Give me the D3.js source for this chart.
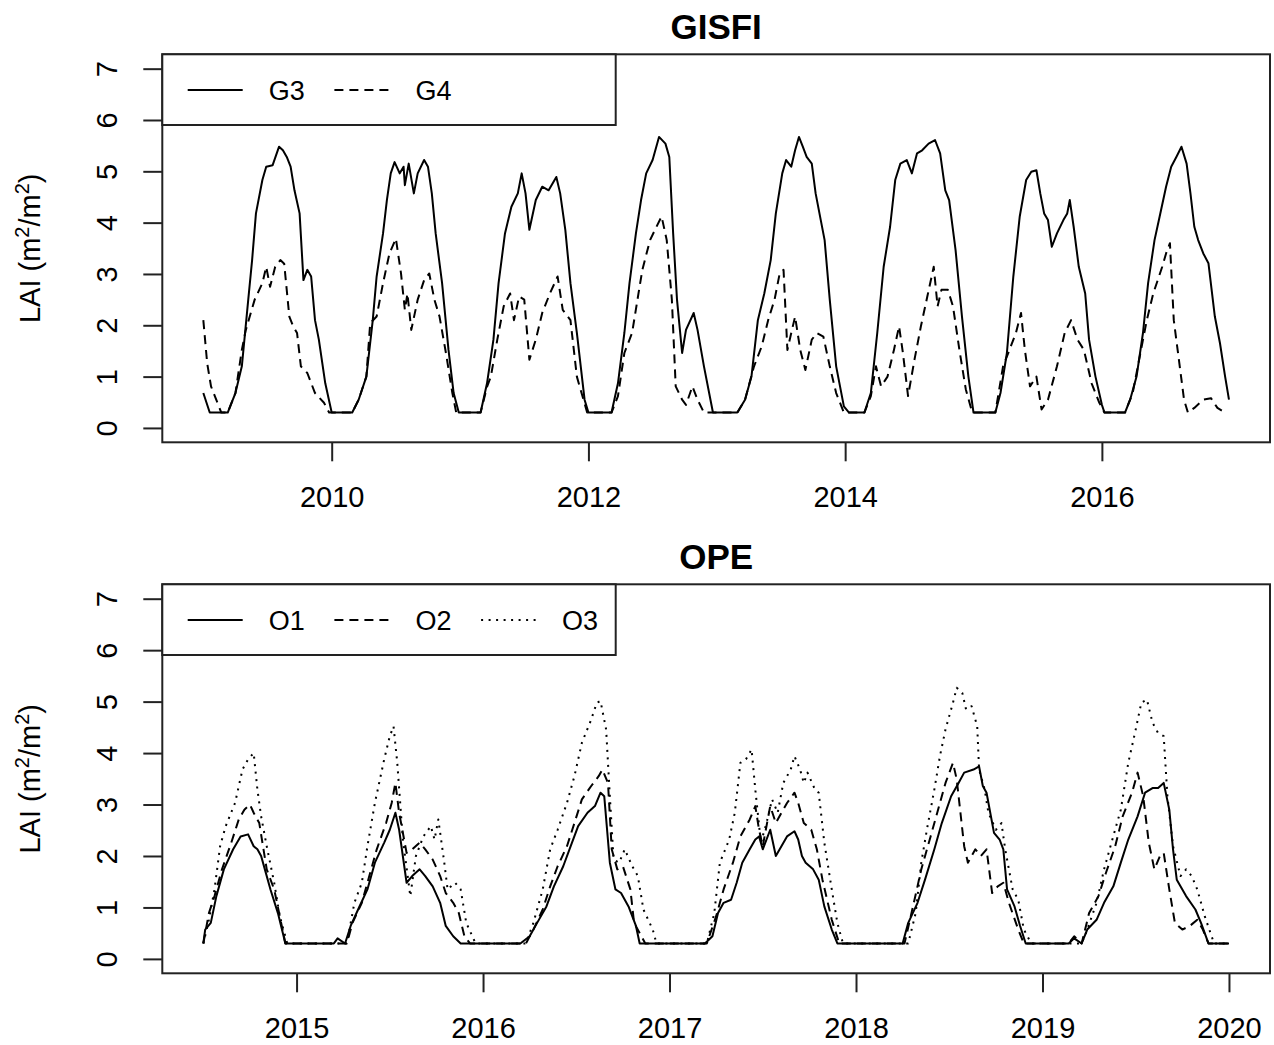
<!DOCTYPE html>
<html>
<head>
<meta charset="utf-8">
<script src="https://cdn.jsdelivr.net/npm/d3@7"></script>
<style>
  body { margin: 0; background: #fff; }
  text { font-family: "Liberation Sans", Arial, Helvetica, sans-serif; fill: #000; }
</style>
</head>
<body>
<div id="chart"></div>
<script>
// LAI series, [decimal year, value]
const g3 = [[2009.00,0.68],[2009.05,0.30],[2009.19,0.30],[2009.25,0.68],[2009.30,1.20],[2009.35,2.50],[2009.38,3.27],[2009.41,4.18],[2009.46,4.83],[2009.49,5.09],[2009.54,5.12],[2009.59,5.48],[2009.62,5.41],[2009.65,5.28],[2009.68,5.09],[2009.71,4.63],[2009.75,4.18],[2009.78,2.88],[2009.81,3.08],[2009.84,2.95],[2009.87,2.10],[2009.90,1.72],[2009.95,0.87],[2010.00,0.30],
  [2010.16,0.30],[2010.21,0.55],[2010.27,1.00],[2010.32,2.10],[2010.35,2.95],[2010.40,3.79],[2010.43,4.44],[2010.46,4.96],[2010.49,5.18],[2010.53,4.96],[2010.56,5.09],[2010.57,4.73],[2010.60,5.15],[2010.64,4.57],[2010.67,4.96],[2010.72,5.22],[2010.75,5.09],[2010.78,4.57],[2010.81,3.79],[2010.86,2.82],[2010.91,1.52],[2010.95,0.68],[2010.99,0.30],
  [2011.16,0.30],[2011.21,0.87],[2011.26,1.72],[2011.30,2.82],[2011.35,3.79],[2011.40,4.31],[2011.45,4.57],[2011.48,4.96],[2011.51,4.57],[2011.54,3.86],[2011.59,4.44],[2011.64,4.70],[2011.69,4.63],[2011.75,4.89],[2011.78,4.57],[2011.82,3.86],[2011.86,2.82],[2011.91,1.85],[2011.97,0.55],[2012.00,0.30],
  [2012.18,0.30],[2012.23,0.87],[2012.28,1.85],[2012.32,2.82],[2012.37,3.79],[2012.41,4.44],[2012.45,4.96],[2012.50,5.22],[2012.55,5.67],[2012.60,5.54],[2012.63,5.28],[2012.66,3.79],[2012.69,2.50],[2012.73,1.46],[2012.76,1.91],[2012.82,2.24],[2012.85,1.91],[2012.90,1.20],[2012.97,0.30],
  [2013.16,0.30],[2013.22,0.55],[2013.27,1.00],[2013.32,2.10],[2013.37,2.62],[2013.42,3.27],[2013.46,4.18],[2013.51,4.96],[2013.54,5.22],[2013.58,5.09],[2013.61,5.41],[2013.64,5.67],[2013.67,5.48],[2013.70,5.28],[2013.74,5.15],[2013.77,4.57],[2013.81,4.05],[2013.84,3.66],[2013.88,2.50],[2013.93,1.20],[2013.99,0.42],[2014.03,0.30],
  [2014.15,0.30],[2014.20,0.68],[2014.25,1.85],[2014.30,3.14],[2014.35,3.92],[2014.39,4.83],[2014.43,5.15],[2014.48,5.22],[2014.52,4.96],[2014.56,5.35],[2014.60,5.41],[2014.65,5.54],[2014.70,5.61],[2014.74,5.35],[2014.78,4.63],[2014.81,4.44],[2014.86,3.47],[2014.91,2.17],[2014.96,1.00],[2015.00,0.30],
  [2015.17,0.30],[2015.21,0.68],[2015.26,1.46],[2015.31,2.95],[2015.36,4.12],[2015.41,4.83],[2015.45,4.99],[2015.49,5.02],[2015.52,4.57],[2015.55,4.18],[2015.58,4.05],[2015.61,3.53],[2015.65,3.79],[2015.70,4.05],[2015.73,4.18],[2015.75,4.44],[2015.78,3.92],[2015.82,3.14],[2015.87,2.62],[2015.90,1.72],[2015.95,1.00],[2016.00,0.45],[2016.02,0.30],
  [2016.18,0.30],[2016.22,0.55],[2016.27,1.00],[2016.32,1.85],[2016.36,2.82],[2016.41,3.66],[2016.45,4.12],[2016.50,4.70],[2016.54,5.09],[2016.58,5.28],[2016.62,5.48],[2016.66,5.15],[2016.69,4.57],[2016.72,3.92],[2016.75,3.66],[2016.79,3.40],[2016.83,3.21],[2016.88,2.17],[2016.92,1.65],[2016.96,1.00],[2016.99,0.55]];

const g4 = [[2009.00,2.10],[2009.03,1.26],[2009.06,0.81],[2009.11,0.49],[2009.14,0.30],[2009.19,0.30],[2009.25,0.68],[2009.30,1.52],[2009.33,1.90],[2009.40,2.50],[2009.46,2.82],[2009.49,3.14],[2009.52,2.75],[2009.56,3.14],[2009.60,3.27],[2009.63,3.20],[2009.67,2.17],[2009.70,1.98],[2009.73,1.85],[2009.76,1.20],[2009.81,1.07],[2009.87,0.68],[2009.94,0.49],[2009.98,0.30],
  [2010.16,0.30],[2010.21,0.55],[2010.27,1.00],[2010.30,2.04],[2010.35,2.17],[2010.40,2.82],[2010.45,3.40],[2010.50,3.69],[2010.54,3.01],[2010.57,2.30],[2010.59,2.62],[2010.62,1.91],[2010.67,2.50],[2010.72,2.88],[2010.76,3.01],[2010.80,2.50],[2010.84,2.17],[2010.89,1.46],[2010.94,0.68],[2010.97,0.30],
  [2011.16,0.30],[2011.21,0.80],[2011.24,1.00],[2011.29,1.72],[2011.34,2.37],[2011.39,2.62],[2011.42,2.10],[2011.46,2.56],[2011.50,2.50],[2011.54,1.33],[2011.59,1.72],[2011.64,2.24],[2011.70,2.62],[2011.76,2.95],[2011.80,2.30],[2011.86,2.10],[2011.91,1.00],[2011.99,0.30],
  [2012.18,0.30],[2012.23,0.62],[2012.28,1.46],[2012.34,1.85],[2012.39,2.62],[2012.42,3.08],[2012.48,3.66],[2012.53,3.92],[2012.57,4.12],[2012.61,3.66],[2012.65,2.50],[2012.68,0.81],[2012.73,0.55],[2012.76,0.45],[2012.81,0.81],[2012.85,0.55],[2012.90,0.30],
  [2013.16,0.30],[2013.22,0.55],[2013.29,1.20],[2013.35,1.59],[2013.40,2.10],[2013.45,2.50],[2013.49,3.01],[2013.52,3.08],[2013.55,1.52],[2013.58,1.85],[2013.61,2.17],[2013.65,1.52],[2013.69,1.13],[2013.74,1.72],[2013.78,1.85],[2013.83,1.78],[2013.88,1.20],[2013.93,0.68],[2013.99,0.30],
  [2014.15,0.30],[2014.20,0.62],[2014.24,1.20],[2014.28,0.81],[2014.33,1.00],[2014.38,1.52],[2014.42,1.98],[2014.45,1.46],[2014.49,0.62],[2014.54,1.33],[2014.59,1.98],[2014.64,2.56],[2014.69,3.14],[2014.72,2.37],[2014.75,2.69],[2014.80,2.69],[2014.84,2.37],[2014.89,1.52],[2014.94,0.75],[2014.99,0.30],
  [2015.17,0.30],[2015.23,1.20],[2015.28,1.52],[2015.33,1.85],[2015.37,2.24],[2015.40,1.52],[2015.44,0.81],[2015.49,1.00],[2015.53,0.36],[2015.58,0.55],[2015.65,1.20],[2015.71,1.85],[2015.76,2.10],[2015.81,1.72],[2015.86,1.52],[2015.92,0.87],[2015.98,0.49],[2016.02,0.30],
  [2016.18,0.30],[2016.24,0.68],[2016.30,1.46],[2016.35,2.10],[2016.40,2.62],[2016.47,3.14],[2016.50,3.40],[2016.53,3.60],[2016.56,2.10],[2016.59,1.52],[2016.64,0.55],[2016.67,0.30],[2016.72,0.39],[2016.79,0.55],[2016.85,0.58],[2016.90,0.39],[2016.96,0.30]];

const o1 = [[2014.50,0.30],[2014.51,0.57],[2014.54,0.70],[2014.57,1.22],[2014.61,1.74],[2014.66,2.13],[2014.70,2.38],[2014.74,2.42],[2014.77,2.19],[2014.79,2.13],[2014.81,2.00],[2014.83,1.74],[2014.86,1.35],[2014.90,0.89],[2014.94,0.30],
  [2015.20,0.30],[2015.22,0.40],[2015.26,0.30],[2015.29,0.64],[2015.33,0.96],[2015.38,1.35],[2015.42,1.87],[2015.47,2.26],[2015.50,2.51],[2015.53,2.84],[2015.55,2.51],[2015.59,1.48],[2015.62,1.61],[2015.66,1.74],[2015.69,1.61],[2015.73,1.41],[2015.77,1.09],[2015.80,0.64],[2015.84,0.44],[2015.88,0.30],
  [2016.20,0.30],[2016.25,0.44],[2016.29,0.70],[2016.34,1.02],[2016.38,1.41],[2016.43,1.80],[2016.47,2.19],[2016.51,2.58],[2016.56,2.84],[2016.60,2.97],[2016.63,3.23],[2016.65,3.16],[2016.68,1.87],[2016.71,1.35],[2016.74,1.28],[2016.78,1.02],[2016.82,0.64],[2016.84,0.30],
  [2017.19,0.30],[2017.23,0.44],[2017.26,0.89],[2017.29,1.09],[2017.33,1.15],[2017.36,1.48],[2017.39,1.87],[2017.43,2.13],[2017.46,2.32],[2017.48,2.38],[2017.50,2.13],[2017.54,2.51],[2017.57,2.00],[2017.60,2.19],[2017.63,2.38],[2017.67,2.48],[2017.69,2.32],[2017.71,2.00],[2017.73,1.87],[2017.77,1.74],[2017.80,1.54],[2017.83,1.02],[2017.87,0.57],[2017.90,0.30],
  [2018.25,0.30],[2018.28,0.70],[2018.33,1.09],[2018.37,1.54],[2018.42,2.13],[2018.46,2.64],[2018.51,3.16],[2018.55,3.42],[2018.58,3.62],[2018.63,3.68],[2018.66,3.74],[2018.68,3.36],[2018.70,3.23],[2018.74,2.45],[2018.77,2.32],[2018.79,2.13],[2018.81,1.35],[2018.85,1.02],[2018.88,0.64],[2018.91,0.30],
  [2019.14,0.30],[2019.17,0.40],[2019.21,0.30],[2019.24,0.57],[2019.29,0.76],[2019.33,1.09],[2019.38,1.41],[2019.42,1.87],[2019.46,2.32],[2019.51,2.77],[2019.55,3.23],[2019.59,3.32],[2019.62,3.32],[2019.65,3.42],[2019.68,2.90],[2019.70,2.13],[2019.72,1.54],[2019.77,1.22],[2019.82,0.96],[2019.85,0.70],[2019.89,0.30],[2020.00,0.30]];

const o2 = [[2014.50,0.30],[2014.53,0.89],[2014.56,1.22],[2014.60,1.74],[2014.65,2.26],[2014.69,2.71],[2014.72,2.90],[2014.75,3.00],[2014.77,2.84],[2014.80,2.64],[2014.82,2.19],[2014.84,1.74],[2014.88,1.35],[2014.91,0.83],[2014.94,0.30],
  [2015.27,0.30],[2015.30,0.70],[2015.35,1.09],[2015.39,1.61],[2015.43,2.13],[2015.48,2.64],[2015.51,3.03],[2015.53,3.42],[2015.55,2.84],[2015.59,2.06],[2015.62,2.13],[2015.66,2.26],[2015.69,2.13],[2015.73,1.93],[2015.77,1.61],[2015.80,1.28],[2015.84,1.09],[2015.87,0.89],[2015.90,0.44],[2015.93,0.30],
  [2016.23,0.30],[2016.27,0.57],[2016.32,0.96],[2016.36,1.41],[2016.40,1.80],[2016.45,2.19],[2016.49,2.64],[2016.53,3.10],[2016.58,3.36],[2016.62,3.55],[2016.64,3.68],[2016.67,3.42],[2016.69,2.13],[2016.72,1.74],[2016.75,1.80],[2016.79,1.35],[2016.81,0.70],[2016.87,0.30],
  [2017.20,0.30],[2017.25,0.83],[2017.29,1.35],[2017.34,1.87],[2017.38,2.38],[2017.43,2.71],[2017.46,2.97],[2017.48,2.51],[2017.50,2.19],[2017.54,2.97],[2017.57,2.64],[2017.60,2.84],[2017.63,3.03],[2017.67,3.23],[2017.69,3.03],[2017.72,2.64],[2017.76,2.51],[2017.79,2.13],[2017.82,1.54],[2017.87,0.76],[2017.91,0.30],
  [2018.26,0.30],[2018.31,1.09],[2018.35,1.74],[2018.40,2.38],[2018.44,2.90],[2018.48,3.42],[2018.52,3.81],[2018.54,3.49],[2018.56,2.84],[2018.58,2.19],[2018.60,1.87],[2018.64,2.13],[2018.67,2.00],[2018.70,2.13],[2018.73,1.28],[2018.76,1.41],[2018.79,1.48],[2018.82,1.09],[2018.87,0.57],[2018.90,0.30],
  [2019.14,0.30],[2019.17,0.44],[2019.21,0.30],[2019.25,0.89],[2019.30,1.22],[2019.34,1.67],[2019.39,2.19],[2019.43,2.77],[2019.48,3.23],[2019.51,3.62],[2019.54,3.16],[2019.57,2.26],[2019.60,1.74],[2019.63,2.00],[2019.65,2.06],[2019.68,1.35],[2019.71,0.70],[2019.75,0.57],[2019.79,0.64],[2019.83,0.76],[2019.86,0.57],[2019.89,0.30],[2020.00,0.30]];

const o3 = [[2014.50,0.30],[2014.53,0.76],[2014.56,1.35],[2014.59,2.19],[2014.62,2.58],[2014.67,3.03],[2014.71,3.68],[2014.74,3.88],[2014.77,4.00],[2014.79,3.29],[2014.81,2.77],[2014.84,2.19],[2014.88,1.48],[2014.91,0.83],[2014.95,0.30],
  [2015.27,0.30],[2015.31,1.09],[2015.35,1.48],[2015.38,2.19],[2015.42,3.03],[2015.47,3.88],[2015.50,4.33],[2015.52,4.52],[2015.54,3.81],[2015.57,2.32],[2015.61,1.22],[2015.64,2.00],[2015.68,2.38],[2015.72,2.58],[2015.74,2.32],[2015.76,2.71],[2015.79,1.93],[2015.81,1.35],[2015.85,1.48],[2015.88,1.35],[2015.91,0.70],[2015.96,0.30],
  [2016.23,0.30],[2016.27,0.70],[2016.32,1.35],[2016.36,2.13],[2016.40,2.51],[2016.45,3.03],[2016.49,3.55],[2016.53,4.20],[2016.58,4.65],[2016.61,4.98],[2016.63,5.01],[2016.66,4.46],[2016.68,3.16],[2016.70,1.93],[2016.73,1.87],[2016.76,2.13],[2016.80,1.80],[2016.83,1.61],[2016.86,0.96],[2016.91,0.57],[2016.93,0.30],
  [2017.20,0.30],[2017.24,0.89],[2017.27,1.87],[2017.32,2.32],[2017.35,2.84],[2017.38,3.81],[2017.41,3.88],[2017.44,4.07],[2017.46,3.29],[2017.49,2.26],[2017.52,2.64],[2017.55,3.10],[2017.58,2.84],[2017.61,3.42],[2017.65,3.68],[2017.67,3.94],[2017.70,3.68],[2017.72,3.42],[2017.74,3.62],[2017.78,3.29],[2017.80,3.23],[2017.83,2.26],[2017.87,1.35],[2017.90,0.70],[2017.93,0.30],
  [2018.28,0.30],[2018.32,0.89],[2018.35,1.87],[2018.38,2.51],[2018.42,3.29],[2018.45,3.94],[2018.48,4.46],[2018.52,4.98],[2018.54,5.27],[2018.57,5.17],[2018.59,4.85],[2018.62,4.91],[2018.65,4.52],[2018.66,3.68],[2018.69,3.29],[2018.71,2.84],[2018.75,2.51],[2018.78,2.64],[2018.80,2.13],[2018.84,1.35],[2018.87,1.15],[2018.90,0.57],[2018.94,0.30],
  [2019.21,0.30],[2019.24,0.57],[2019.29,1.09],[2019.33,1.74],[2019.37,2.26],[2019.42,2.90],[2019.46,3.81],[2019.50,4.46],[2019.53,4.98],[2019.56,5.04],[2019.59,4.59],[2019.62,4.39],[2019.65,4.33],[2019.67,3.16],[2019.70,2.19],[2019.74,1.61],[2019.77,1.74],[2019.80,1.61],[2019.83,1.35],[2019.87,0.83],[2019.92,0.30],[2020.00,0.30]];

const gisfiYears = [2010, 2012, 2014, 2016];
const opeYears = [2015, 2016, 2017, 2018, 2019, 2020];
const laiTicks = [0, 1, 2, 3, 4, 5, 6, 7];

const width = 1274;
const height = 1045;
const boxLeft = 162.3;
const boxRight = 1270;
const tickLen = 19;

const dashStyles = { solid: null, dashed: "9,6", dotted: "2,5.5" };

const svg = d3.select("#chart")
    .append("svg")
    .attr("width", width)
    .attr("height", height)
    .style("background", "#fff");

const drawPanel = (opts) => {
    const { title, top, bottom, series, years, titleY } = opts;

    // R style 4% padding around the data range
    const ext = d3.extent(series.flatMap(s => s.data), d => d[0]);
    const pad = (ext[1] - ext[0]) * 0.04;
    const x = d3.scaleLinear().domain([ext[0] - pad, ext[1] + pad]).range([boxLeft, boxRight]);
    const y = d3.scaleLinear().domain([-0.28, 7.28]).range([bottom, top]);

    const g = svg.append("g");

    // Lines
    const line = d3.line().x(d => x(d[0])).y(d => y(d[1]));
    g.selectAll("path.lai")
        .data(series)
        .join("path")
        .attr("class", "lai")
        .attr("d", d => line(d.data))
        .attr("fill", "none")
        .attr("stroke", "#000")
        .attr("stroke-width", 2)
        .attr("stroke-linejoin", "round")
        .attr("stroke-dasharray", d => dashStyles[d.style]);

    // Axes
    const xAxis = d3.axisBottom(x).tickValues(years).tickFormat(d3.format("d"))
        .tickSize(tickLen).tickPadding(25);
    g.append("g")
        .attr("transform", `translate(0,${bottom})`)
        .call(xAxis)
        .call(a => a.select(".domain").remove())
        .call(a => a.selectAll("line").attr("stroke", "#222").attr("stroke-width", 2))
        .call(a => a.selectAll("text").attr("font-size", 29).attr("fill", "#000")
            .style("font-family", "'Liberation Sans', Arial, sans-serif"));

    const yAxis = d3.axisLeft(y).tickValues(laiTicks).tickSize(tickLen);
    g.append("g")
        .attr("transform", `translate(${boxLeft},0)`)
        .call(yAxis)
        .call(a => a.select(".domain").remove())
        .call(a => a.selectAll("line").attr("stroke", "#222").attr("stroke-width", 2))
        .call(a => a.selectAll("text")
            .attr("x", null).attr("dy", null)
            .attr("transform", "translate(-45.5,0) rotate(-90)")
            .attr("text-anchor", "middle")
            .attr("font-size", 29).attr("fill", "#000")
            .style("font-family", "'Liberation Sans', Arial, sans-serif"));

    // Y axis title
    const yt = g.append("text")
        .attr("transform", `translate(39.5,${(top + bottom) / 2}) rotate(-90)`)
        .attr("text-anchor", "middle")
        .attr("font-size", 29);
    yt.append("tspan").text("LAI (m");
    yt.append("tspan").attr("font-size", 20).attr("dy", -11).text("2");
    yt.append("tspan").attr("dy", 11).text("/m");
    yt.append("tspan").attr("font-size", 20).attr("dy", -11).text("2");
    yt.append("tspan").attr("dy", 11).text(")");

    // Box
    g.append("rect")
        .attr("x", boxLeft).attr("y", top)
        .attr("width", boxRight - boxLeft).attr("height", bottom - top)
        .attr("fill", "none").attr("stroke", "#222").attr("stroke-width", 2);

    // Title
    g.append("text")
        .attr("x", (boxLeft + boxRight) / 2).attr("y", titleY)
        .attr("text-anchor", "middle")
        .attr("font-size", 35).attr("font-weight", "bold")
        .text(title);

    // Legend
    const legend = g.append("g");
    legend.append("rect")
        .attr("x", boxLeft).attr("y", top)
        .attr("width", 615.7 - boxLeft).attr("height", 70.7)
        .attr("fill", "#fff").attr("stroke", "#222").attr("stroke-width", 2);
    const item = legend.selectAll("g.item")
        .data(series)
        .join("g")
        .attr("class", "item")
        .attr("transform", (d, i) => `translate(${187.7 + i * 146.7},${top + 35.7})`);
    item.append("line")
        .attr("x1", 0).attr("x2", 55).attr("y1", 0).attr("y2", 0)
        .attr("stroke", "#000").attr("stroke-width", 2)
        .attr("stroke-dasharray", d => dashStyles[d.style]);
    item.append("text")
        .attr("x", 81).attr("dy", "0.36em")
        .attr("font-size", 27)
        .text(d => d.name);
};

drawPanel({
    title: "GISFI", top: 54.3, bottom: 442.3, titleY: 39,
    years: gisfiYears,
    series: [{ name: "G3", data: g3, style: "solid" }, { name: "G4", data: g4, style: "dashed" }]
});

drawPanel({
    title: "OPE", top: 584.3, bottom: 973.3, titleY: 569,
    years: opeYears,
    series: [{ name: "O1", data: o1, style: "solid" }, { name: "O2", data: o2, style: "dashed" }, { name: "O3", data: o3, style: "dotted" }]
});
</script>
</body>
</html>
